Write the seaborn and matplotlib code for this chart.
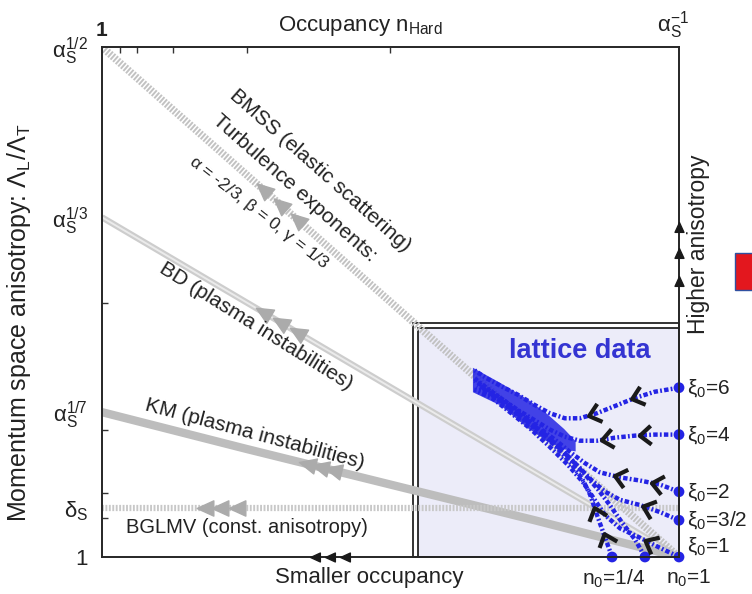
import numpy as np
import pandas as pd
import matplotlib
matplotlib.use("Agg")
import matplotlib.pyplot as plt
import seaborn as sns
from matplotlib.path import Path
from matplotlib.markers import MarkerStyle
from matplotlib.transforms import Affine2D
from matplotlib.patches import Rectangle

# ---------------------------------------------------------------------------
# data: x = occupancy exponent (0 -> n=1, 1 -> n=alpha^-1)
#       p = anisotropy exponent (0 -> 1, 0.5 -> alpha^1/2)
# ---------------------------------------------------------------------------
bmss_x = [0.0, 1.0]
bmss_p = [0.5, 0.0]
bd_x = [0.0, 1.0]
bd_p = [0.333, 0.0]
km_x = [0.0, 0.25, 0.5, 0.75, 1.0]
km_p = [0.142, 0.106, 0.071, 0.036, 0.0]
bglmv_x = [0.0, 1.0]
bglmv_p = [0.048, 0.048]

# gray arrowheads on the theory lines (x positions)
bmss_arrow_x = [0.279, 0.308, 0.338]
bd_arrow_x = [0.279, 0.308, 0.338]
km_arrow_x = [0.355, 0.378, 0.400]
bglmv_arrow_x = [0.178, 0.204, 0.234]

# black arrows on the axes
bottom_arrow_x = [0.369, 0.395, 0.421]
right_arrow_p = [0.271, 0.298, 0.3235]

# lattice box
box_x0 = 0.539
box_p1 = 0.229

# lattice curves, from the initial dot towards the attractor
xi6_x = [1.0, 0.958, 0.924, 0.889, 0.858, 0.828, 0.802, 0.776, 0.750, 0.721, 0.690, 0.664, 0.646]
xi6_p = [0.166, 0.162, 0.156, 0.148, 0.141, 0.136, 0.136, 0.141, 0.149, 0.159, 0.168, 0.176, 0.183]
xi4_x = [1.0, 0.958, 0.924, 0.889, 0.858, 0.828, 0.802, 0.776, 0.750, 0.721, 0.690, 0.664, 0.646]
xi4_p = [0.120, 0.120, 0.119, 0.117, 0.114, 0.114, 0.118, 0.125, 0.134, 0.144, 0.156, 0.166, 0.173]
xi2_x = [1.0, 0.967, 0.932, 0.898, 0.863, 0.837, 0.811, 0.785, 0.759, 0.724, 0.690, 0.664, 0.646]
xi2_p = [0.064, 0.071, 0.075, 0.078, 0.083, 0.092, 0.103, 0.115, 0.126, 0.142, 0.156, 0.167, 0.175]
xi15_x = [1.0, 0.967, 0.932, 0.898, 0.872, 0.849, 0.825, 0.797, 0.768, 0.733, 0.698, 0.669, 0.650]
xi15_p = [0.036, 0.044, 0.051, 0.056, 0.064, 0.075, 0.089, 0.105, 0.120, 0.136, 0.151, 0.162, 0.168]
xi1_x = [1.0, 0.967, 0.932, 0.898, 0.872, 0.854, 0.834, 0.808, 0.776, 0.742, 0.707, 0.676, 0.652]
xi1_p = [0.0, 0.009, 0.019, 0.028, 0.041, 0.056, 0.073, 0.090, 0.108, 0.126, 0.142, 0.156, 0.162]
q4a_x = [0.884, 0.870, 0.858, 0.846, 0.832, 0.811, 0.785, 0.756, 0.721, 0.690, 0.664, 0.645]
q4a_p = [0.0, 0.022, 0.041, 0.061, 0.077, 0.093, 0.109, 0.125, 0.140, 0.154, 0.162, 0.164]
q4b_x = [0.941, 0.924, 0.901, 0.880, 0.860, 0.837, 0.811, 0.780, 0.747, 0.712, 0.681, 0.655]
q4b_p = [0.0, 0.017, 0.034, 0.051, 0.066, 0.081, 0.097, 0.113, 0.128, 0.144, 0.157, 0.168]

# dense attractor band where all lattice curves pile up
band_x = [0.642, 0.690, 0.737, 0.770, 0.800, 0.820]
band_up = [0.186, 0.171, 0.155, 0.141, 0.126, 0.114]
band_lo = [0.162, 0.149, 0.127, 0.114, 0.106, 0.104]

# chevron positions along each curve (fractional point index)
xi6_chev = [1.9, 4.2]
xi4_chev = [1.5, 3.45]
xi2_chev = [1.15, 3.0]
xi15_chev = [1.6]
xi1_chev = [1.5]
q4a_chev = [0.8, 2.1]
q4b_chev = []

xi_labels = ["$\\xi_0$=6", "$\\xi_0$=4", "$\\xi_0$=2", "$\\xi_0$=3/2", "$\\xi_0$=1"]
xi_label_p = [0.166, 0.120, 0.064, 0.036, 0.011]
n_labels = ["$n_0$=1/4", "$n_0$=1"]
n_label_x = [0.887, 1.016]

ytick_pos = [0.0, 0.048, 1 / 7, 1 / 3, 0.5]
ytick_labels = ["1", "$\\delta_S$", "$\\alpha_S^{1/7}$", "$\\alpha_S^{1/3}$", "$\\alpha_S^{1/2}$"]
top_minor = [0.031, 0.061, 0.123, 0.251, 0.499]
left_minor = [0.249, 0.125, 0.063, 0.038]

BLUE = "#2424e4"
TXT = "#222222"

sns.set_theme(style="white")
plt.rcParams["font.family"] = ["Liberation Sans", "DejaVu Sans"]
plt.rcParams["mathtext.fontset"] = "custom"
plt.rcParams["mathtext.rm"] = "Liberation Sans"
plt.rcParams["mathtext.it"] = "Liberation Sans:italic"
plt.rcParams["mathtext.bf"] = "Liberation Sans:bold"
plt.rcParams["mathtext.default"] = "regular"

fig = plt.figure(figsize=(7.52, 5.94), dpi=100)
ax = fig.add_axes([102 / 752, 37 / 594, 577 / 752, 510 / 594])
ax.set_xlim(0, 1)
ax.set_ylim(0, 0.5)

CHEVRON = Path([(-0.45, 0.75), (0.45, 0.0), (-0.45, -0.75)],
               [Path.MOVETO, Path.LINETO, Path.LINETO])
TRI = Path([(0.6, 0.0), (-0.6, 0.55), (-0.6, -0.55), (0.6, 0.0)],
           [Path.MOVETO, Path.LINETO, Path.LINETO, Path.CLOSEPOLY])


def rot_marker(path, x, p, dx, dp):
    a, b = ax.transData.transform([(x, p), (x + dx, p + dp)])
    ang = np.degrees(np.arctan2(b[1] - a[1], b[0] - a[0]))
    return MarkerStyle(path, transform=Affine2D().rotate_deg(ang))


# ---------------------------------------------------------------------------
# lattice box (double frame)
# ---------------------------------------------------------------------------
ax.add_patch(Rectangle((box_x0, 0), 1 - box_x0, box_p1, facecolor="none",
                       edgecolor="#111111", lw=1.2, zorder=1.5, clip_on=False))
ax.add_patch(Rectangle((box_x0 + 0.009, 0), 1 - box_x0 - 0.009, box_p1 - 0.0045,
                       facecolor="#ececf9", edgecolor="#111111", lw=1.2, zorder=1))

# ---------------------------------------------------------------------------
# theory lines
# ---------------------------------------------------------------------------
sns.lineplot(x=km_x, y=km_p, ax=ax, color="#bdbdbd", lw=6, sort=False,
             zorder=2, solid_capstyle="butt")
sns.lineplot(x=bd_x, y=bd_p, ax=ax, color="#cdcdcd", lw=4.5, sort=False,
             zorder=2, solid_capstyle="butt")
sns.lineplot(x=bd_x, y=bd_p, ax=ax, color="#ebebeb", lw=1.4, sort=False,
             zorder=2.1, solid_capstyle="butt")
sns.lineplot(x=bmss_x, y=bmss_p, ax=ax, color="#c2c2c2", lw=5.5, sort=False,
             zorder=2.2, linestyle=(0, (0.25, 0.2)))
sns.lineplot(x=bglmv_x, y=bglmv_p, ax=ax, color="#c8c8c8", lw=4.5, sort=False,
             zorder=2.2, linestyle=(0, (0.3, 0.25)))

for lx, lp, axs in [(bmss_x, bmss_p, bmss_arrow_x), (bd_x, bd_p, bd_arrow_x),
                    (km_x, km_p, km_arrow_x), (bglmv_x, bglmv_p, bglmv_arrow_x)]:
    for xa in axs:
        pa = np.interp(xa, lx, lp)
        pb = np.interp(xa - 0.01, lx, lp)
        ax.plot([xa], [pa], marker=rot_marker(TRI, xa, pa, -0.01, pb - pa),
                ms=12, color="#ababab", mec="#ababab", ls="none", zorder=2.5)

# ---------------------------------------------------------------------------
# lattice data curves
# ---------------------------------------------------------------------------
ax.fill_between(band_x, band_lo, band_up, color=BLUE, lw=0, alpha=0.85, zorder=3)

curves = {
    "xi6": (xi6_x, xi6_p, xi6_chev),
    "xi4": (xi4_x, xi4_p, xi4_chev),
    "xi2": (xi2_x, xi2_p, xi2_chev),
    "xi15": (xi15_x, xi15_p, xi15_chev),
    "xi1": (xi1_x, xi1_p, xi1_chev),
    "q4a": (q4a_x, q4a_p, q4a_chev),
    "q4b": (q4b_x, q4b_p, q4b_chev),
}
lat = pd.concat([pd.DataFrame({"x": cx, "p": cp, "curve": name})
                 for name, (cx, cp, _) in curves.items()], ignore_index=True)
sns.lineplot(data=lat, x="x", y="p", units="curve", estimator=None, sort=False,
             ax=ax, color=BLUE, lw=3.2, linestyle=(0, (1.0, 0.5, 0.4, 0.5)),
             zorder=3, legend=False, clip_on=False)

starts = lat.groupby("curve", sort=False).first()
sns.scatterplot(x=starts["x"].values, y=starts["p"].values, ax=ax, s=60,
                color=BLUE, edgecolor="none", zorder=4, clip_on=False, legend=False)

for name, (cx, cp, chev) in curves.items():
    for t in chev:
        i = int(np.floor(t))
        f = t - i
        x = cx[i] + f * (cx[i + 1] - cx[i])
        p = cp[i] + f * (cp[i + 1] - cp[i])
        m = rot_marker(CHEVRON, x, p, cx[i + 1] - cx[i], cp[i + 1] - cp[i])
        ax.plot([x], [p], marker=m, ms=13.5, mew=3, mec="k", mfc="none",
                ls="none", zorder=6)

# black arrows on the axes
for xa in bottom_arrow_x:
    ax.plot([xa], [0], marker=rot_marker(TRI, xa, 0, -0.01, 0), ms=7,
            color="k", ls="none", zorder=6, clip_on=False)
for pa in right_arrow_p:
    ax.plot([1], [pa], marker=rot_marker(TRI, 1, pa, 0, 0.01), ms=7,
            color="k", ls="none", zorder=6, clip_on=False)

# ---------------------------------------------------------------------------
# texts
# ---------------------------------------------------------------------------
ax.text(0.378, 0.379, "BMSS (elastic scattering)", rotation=-41.5,
        rotation_mode="anchor", ha="center", va="center", fontsize=15, color=TXT)
ax.text(0.334, 0.362, "Turbulence exponents:", rotation=-41.5,
        rotation_mode="anchor", ha="center", va="center", fontsize=15, color=TXT)
ax.text(0.272, 0.338, "$\\alpha$ = -2/3, $\\beta$ = 0, $\\gamma$ = 1/3", rotation=-38,
        rotation_mode="anchor", ha="center", va="center", fontsize=12.5, color=TXT)
ax.text(0.267, 0.226, "BD (plasma instabilities)", rotation=-32,
        rotation_mode="anchor", ha="center", va="center", fontsize=15, color=TXT)
ax.text(0.265, 0.120, "KM (plasma instabilities)", rotation=-15,
        rotation_mode="anchor", ha="center", va="center", fontsize=15, color=TXT)
ax.text(0.251, 0.029, "BGLMV (const. anisotropy)", ha="center", va="center",
        fontsize=14.5, color=TXT)
ax.text(0.828, 0.202, "lattice data", ha="center", va="center", fontsize=19.5,
        fontweight="bold", color="#3434d2")

for lab, lp in zip(xi_labels, xi_label_p):
    ax.text(1.014, lp, lab, ha="left", va="center", fontsize=15, color=TXT,
            clip_on=False)
for lab, lx in zip(n_labels, n_label_x):
    ax.text(lx, -0.021, lab, ha="center", va="center", fontsize=15, color=TXT,
            clip_on=False)

ax.text(0.464, -0.0205, "Smaller occupancy", ha="center", va="center",
        fontsize=16, color=TXT)
ax.text(0.447, 0.5206, "Occupancy $n_{Hard}$", ha="center", va="center",
        fontsize=16, color=TXT)
ax.text(0.0, 0.5157, "1", ha="center", va="center", fontsize=15,
        fontweight="bold", color=TXT)
ax.text(0.990, 0.5216, "$\\alpha_S^{-1}$", ha="center", va="center",
        fontsize=16, color=TXT)
ax.text(-0.144, 0.46, "Momentum space anisotropy: $\\Lambda_L/\\Lambda_T$",
        transform=ax.transAxes, rotation=90, ha="center", va="center",
        fontsize=18, color=TXT)
ax.text(1.033, 0.614, "Higher anisotropy", transform=ax.transAxes, rotation=90,
        ha="center", va="center", fontsize=16.5, color=TXT)

# ticks
ax.set_xlabel("")
ax.set_ylabel("")
ax.set_xticks([])
ax.set_xticks(top_minor, minor=True)
ax.tick_params(axis="x", which="minor", top=True, bottom=False, direction="in",
               length=4, width=1, color=".2", labeltop=False, labelbottom=False)
ax.set_yticks(ytick_pos, ytick_labels)
ax.tick_params(axis="y", which="major", length=0, pad=10, labelsize=16,
               labelcolor=TXT)
ax.set_yticks(left_minor, minor=True)
ax.tick_params(axis="y", which="minor", left=True, direction="in", length=4,
               width=1, color=".2")
ax.grid(False)
for s in ax.spines.values():
    s.set_linewidth(1.4)
    s.set_color(".15")
    s.set_zorder(5)

# red marker box at the right border
fig.add_artist(Rectangle((735 / 752, 1 - 290 / 594), 30 / 752, 37 / 594,
                         transform=fig.transFigure, facecolor="#e3171e",
                         edgecolor="#3050a0", lw=1))

fig.savefig("out.png", dpi=100)
